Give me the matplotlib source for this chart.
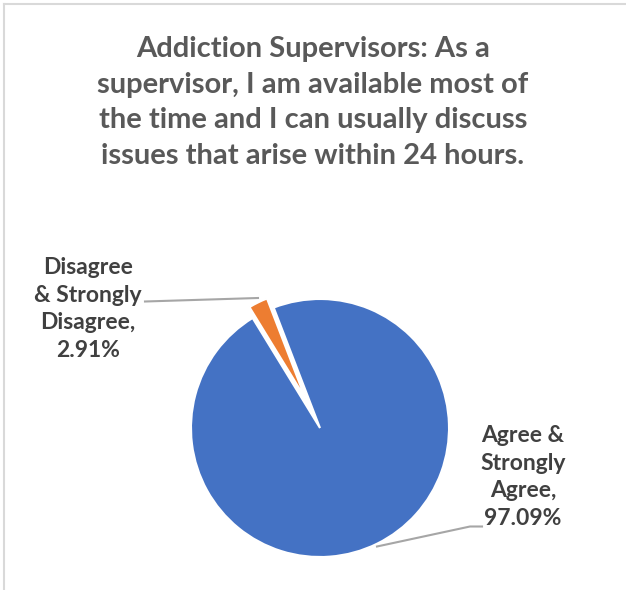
import matplotlib
matplotlib.use('Agg')
import matplotlib.pyplot as plt
from matplotlib.lines import Line2D

# donnees du graphique
categories = ['Agree & Strongly Agree', 'Disagree & Strongly Disagree']
valeurs = [97.09, 2.91]
etiquettes = ['Agree &\nStrongly\nAgree,\n97.09%', 'Disagree\n& Strongly\nDisagree,\n2.91%']
couleurs = ['#4472C4', '#ED7D31']
titre = ('Addiction Supervisors: As a\nsupervisor, I am available most of\n'
         'the time and I can usually discuss\nissues that arise within 24 hours.')

W, H = 626, 590
plt.rcParams['font.family'] = ['Lato', 'DejaVu Sans']

fig = plt.figure(figsize=(W / 100, H / 100), dpi=100)
ax = fig.add_axes([0, 0, 1, 1])

# centre et rayon du camembert (en pixels, y vers le haut)
cx, cy, r = 320, H - 428, 129

# explode est en unites de donnees (ici des pixels)
wedges, _ = ax.pie(valeurs, colors=couleurs, startangle=121.5, counterclock=True,
                   center=(cx, cy), radius=r, explode=[0, 33],
                   wedgeprops=dict(edgecolor='white', linewidth=1.5))
wedges[1].set_radius(107)

ax.set_xlim(0, W)
ax.set_ylim(0, H)
ax.set_aspect('equal')
ax.axis('off')

gris_texte = '#404040'
# etiquettes de donnees
ax.text(523, H - 477, etiquettes[0], ha='center', va='center', fontsize=16.5,
        fontweight='bold', color=gris_texte, linespacing=1.4)
ax.text(88, H - 309, etiquettes[1], ha='center', va='center', fontsize=16.5,
        fontweight='bold', color=gris_texte, linespacing=1.38)

# lignes de rappel
ax.plot([482, 470, 377], [H - 526.5, H - 526.5, H - 546.5], color='#a6a6a6', lw=1.5)
ax.plot([145, 258], [H - 301.5, H - 298], color='#a6a6a6', lw=1.5)

# titre
fig.text(0.5, 1 - 102.5 / H, titre, ha='center', va='center', fontsize=21,
         fontweight='bold', color='#595959', linespacing=1.46)

# cadre partiel
fig.add_artist(Line2D([4 / W, 1], [1 - 4 / H, 1 - 4 / H], color='#d9d9d9', lw=1.5))
fig.add_artist(Line2D([4 / W, 4 / W], [0, 1 - 4 / H], color='#d9d9d9', lw=1.5))

fig.savefig('out.png', dpi=100, facecolor='white')
